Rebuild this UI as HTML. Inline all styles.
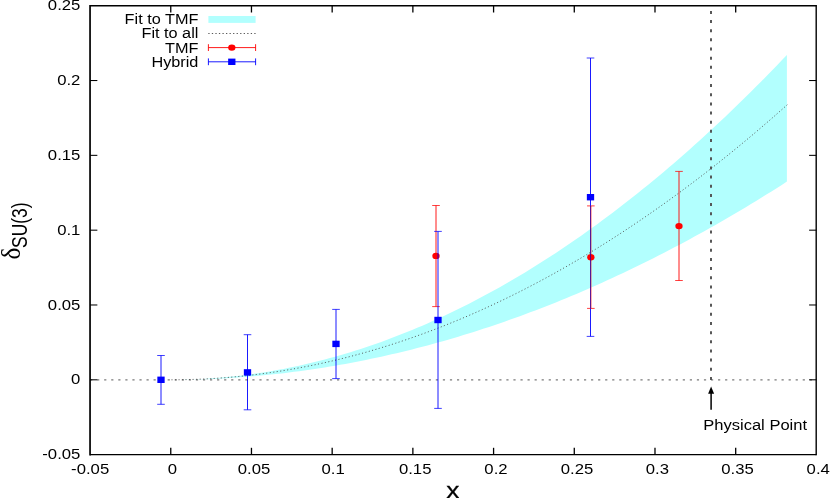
<!DOCTYPE html>
<html><head><meta charset="utf-8"><title>plot</title>
<style>
html,body{margin:0;padding:0;background:#fff;}
svg{display:block;}
text{font-family:"Liberation Sans",sans-serif;fill:#000;}
</style></head><body>
<svg width="830" height="498" viewBox="0 0 830 498">
<rect width="830" height="498" fill="#fff"/>
<path d="M170.76,379.80 L175.89,379.78 L181.02,379.71 L186.16,379.60 L191.29,379.44 L196.43,379.24 L201.56,378.99 L206.70,378.69 L211.83,378.36 L216.97,377.97 L222.10,377.54 L227.24,377.07 L232.37,376.55 L237.50,375.99 L242.64,375.38 L247.77,374.72 L252.91,374.02 L258.04,373.28 L263.18,372.49 L268.31,371.66 L273.45,370.78 L278.58,369.85 L283.72,368.88 L288.85,367.87 L293.98,366.81 L299.12,365.70 L304.25,364.55 L309.39,363.35 L314.52,362.11 L319.66,360.83 L324.79,359.50 L329.93,358.12 L335.06,356.70 L340.20,355.23 L345.33,353.72 L350.46,352.16 L355.60,350.56 L360.73,348.91 L365.87,347.22 L371.00,345.49 L376.14,343.70 L381.27,341.88 L386.41,340.00 L391.54,338.09 L396.68,336.12 L401.81,334.11 L406.94,332.06 L412.08,329.96 L417.21,327.82 L422.35,325.63 L427.48,323.40 L432.62,321.12 L437.75,318.80 L442.89,316.43 L448.02,314.01 L453.16,311.55 L458.29,309.05 L463.42,306.50 L468.56,303.91 L473.69,301.27 L478.83,298.58 L483.96,295.85 L489.10,293.08 L494.23,290.26 L499.37,287.39 L504.50,284.48 L509.64,281.53 L514.77,278.53 L519.90,275.48 L525.04,272.39 L530.17,269.25 L535.31,266.07 L540.44,262.85 L545.58,259.57 L550.71,256.26 L555.85,252.90 L560.98,249.49 L566.11,246.04 L571.25,242.54 L576.38,239.00 L581.52,235.41 L586.65,231.78 L591.79,228.10 L596.92,224.38 L602.06,220.61 L607.19,216.80 L612.33,212.94 L617.46,209.04 L622.59,205.09 L627.73,201.10 L632.86,197.06 L638.00,192.98 L643.13,188.85 L648.27,184.67 L653.40,180.45 L658.54,176.19 L663.67,171.88 L668.81,167.53 L673.94,163.13 L679.07,158.68 L684.21,154.19 L689.34,149.66 L694.48,145.08 L699.61,140.45 L704.75,135.78 L709.88,131.07 L715.02,126.31 L720.15,121.50 L725.29,116.65 L730.42,111.76 L735.55,106.82 L740.69,101.83 L745.82,96.80 L750.96,91.72 L756.09,86.60 L761.23,81.44 L766.36,76.22 L771.50,70.97 L776.63,65.67 L781.77,60.32 L786.90,54.93 L786.90,181.61 L781.77,184.90 L776.63,188.16 L771.50,191.39 L766.36,194.60 L761.23,197.78 L756.09,200.93 L750.96,204.05 L745.82,207.15 L740.69,210.22 L735.55,213.26 L730.42,216.28 L725.29,219.26 L720.15,222.22 L715.02,225.15 L709.88,228.06 L704.75,230.93 L699.61,233.78 L694.48,236.60 L689.34,239.40 L684.21,242.17 L679.07,244.90 L673.94,247.62 L668.81,250.30 L663.67,252.96 L658.54,255.58 L653.40,258.19 L648.27,260.76 L643.13,263.31 L638.00,265.82 L632.86,268.32 L627.73,270.78 L622.59,273.22 L617.46,275.62 L612.33,278.01 L607.19,280.36 L602.06,282.68 L596.92,284.98 L591.79,287.25 L586.65,289.50 L581.52,291.71 L576.38,293.90 L571.25,296.06 L566.11,298.20 L560.98,300.30 L555.85,302.38 L550.71,304.43 L545.58,306.45 L540.44,308.45 L535.31,310.42 L530.17,312.36 L525.04,314.27 L519.90,316.16 L514.77,318.02 L509.64,319.85 L504.50,321.65 L499.37,323.42 L494.23,325.17 L489.10,326.89 L483.96,328.59 L478.83,330.25 L473.69,331.89 L468.56,333.50 L463.42,335.08 L458.29,336.64 L453.16,338.17 L448.02,339.67 L442.89,341.14 L437.75,342.58 L432.62,344.00 L427.48,345.39 L422.35,346.75 L417.21,348.09 L412.08,349.40 L406.94,350.68 L401.81,351.93 L396.68,353.15 L391.54,354.35 L386.41,355.52 L381.27,356.66 L376.14,357.78 L371.00,358.87 L365.87,359.93 L360.73,360.96 L355.60,361.96 L350.46,362.94 L345.33,363.89 L340.20,364.81 L335.06,365.71 L329.93,366.57 L324.79,367.41 L319.66,368.22 L314.52,369.01 L309.39,369.77 L304.25,370.50 L299.12,371.20 L293.98,371.87 L288.85,372.52 L283.72,373.14 L278.58,373.73 L273.45,374.29 L268.31,374.83 L263.18,375.34 L258.04,375.82 L252.91,376.28 L247.77,376.70 L242.64,377.10 L237.50,377.47 L232.37,377.82 L227.24,378.13 L222.10,378.42 L216.97,378.69 L211.83,378.92 L206.70,379.13 L201.56,379.30 L196.43,379.46 L191.29,379.58 L186.16,379.68 L181.02,379.74 L175.89,379.79 L170.76,379.80Z" fill="#b2fffe" stroke="none"/>
<line x1="90.05" y1="379.8" x2="816.4" y2="379.8" stroke="#7a7a7a" stroke-width="1.2" stroke-dasharray="2.2 4.856"/>
<line x1="711" y1="379.90000000000003" x2="711" y2="5.7" stroke="#505050" stroke-width="1.9" stroke-dasharray="3 6.15"/>
<path d="M786.49,105.44 L787.31,104.71 M784.02,107.63 L784.85,106.90 M781.56,109.82 L782.38,109.09 M779.09,111.99 L779.92,111.27 M776.63,114.16 L777.46,113.43 M774.32,116.18 L775.15,115.46 M771.85,118.33 L772.68,117.61 M769.39,120.47 L770.22,119.75 M766.92,122.60 L767.75,121.88 M764.46,124.73 L765.29,124.01 M761.99,126.84 L762.83,126.12 M759.53,128.95 L760.36,128.23 M757.06,131.04 L757.90,130.33 M754.44,133.26 L755.28,132.55 M751.98,135.34 L752.82,134.63 M749.51,137.41 L750.35,136.70 M747.04,139.47 L747.89,138.76 M744.58,141.52 L745.43,140.82 M741.96,143.69 L742.81,142.99 M739.49,145.72 L740.34,145.02 M737.03,147.75 L737.88,147.05 M734.41,149.89 L735.26,149.19 M731.94,151.90 L732.80,151.20 M729.33,154.02 L730.18,153.33 M726.86,156.01 L727.72,155.32 M724.24,158.11 L725.10,157.42 M721.77,160.08 L722.63,159.40 M719.16,162.17 L720.02,161.48 M716.54,164.24 L717.40,163.56 M714.07,166.18 L714.94,165.50 M711.45,168.24 L712.32,167.56 M708.83,170.28 L709.70,169.61 M706.21,172.32 L707.08,171.64 M703.59,174.34 L704.46,173.67 M701.13,176.24 L702.00,175.57 M698.51,178.25 L699.38,177.58 M695.89,180.24 L696.76,179.58 M693.27,182.23 L694.15,181.56 M690.65,184.20 L691.53,183.54 M688.03,186.17 L688.91,185.51 M685.26,188.24 L686.14,187.58 M682.64,190.19 L683.52,189.53 M680.02,192.12 L680.90,191.47 M677.40,194.05 L678.29,193.40 M674.78,195.96 L675.67,195.31 M672.01,197.98 L672.90,197.33 M669.39,199.88 L670.28,199.23 M666.77,201.76 L667.66,201.12 M663.99,203.75 L664.89,203.11 M661.37,205.61 L662.27,204.97 M658.60,207.58 L659.50,206.94 M655.98,209.42 L656.88,208.79 M653.21,211.36 L654.11,210.73 M650.43,213.29 L651.34,212.67 M647.82,215.11 L648.72,214.48 M645.04,217.02 L645.95,216.39 M642.27,218.91 L643.18,218.29 M639.65,220.70 L640.56,220.08 M636.88,222.57 L637.79,221.96 M634.10,224.44 L635.01,223.83 M631.33,226.29 L632.24,225.68 M628.55,228.14 L629.47,227.53 M625.78,229.97 L626.70,229.36 M623.01,231.79 L623.93,231.19 M620.23,233.60 L621.16,233.00 M617.46,235.40 L618.38,234.80 M614.69,237.19 L615.61,236.59 M611.76,239.06 L612.69,238.47 M608.99,240.82 L609.91,240.24 M606.21,242.58 L607.14,241.99 M603.29,244.42 L604.22,243.83 M600.51,246.15 L601.45,245.57 M597.74,247.87 L598.67,247.29 M594.81,249.67 L595.75,249.09 M592.04,251.37 L592.98,250.79 M589.11,253.15 L590.05,252.58 M586.34,254.82 L587.28,254.25 M583.41,256.57 L584.35,256.01 M580.48,258.32 L581.43,257.76 M577.55,260.05 L578.50,259.49 M574.78,261.67 L575.73,261.12 M571.85,263.38 L572.80,262.83 M568.92,265.07 L569.88,264.52 M566.00,266.75 L566.95,266.21 M563.07,268.42 L564.03,267.88 M560.14,270.08 L561.10,269.54 M557.21,271.72 L558.17,271.18 M554.29,273.35 L555.25,272.82 M551.36,274.97 L552.32,274.44 M548.43,276.58 L549.40,276.05 M545.50,278.17 L546.47,277.65 M542.42,279.84 L543.39,279.32 M539.50,281.41 L540.47,280.89 M536.57,282.96 L537.54,282.45 M533.49,284.59 L534.46,284.07 M530.56,286.12 L531.53,285.61 M527.48,287.71 L528.45,287.21 M524.55,289.22 L525.53,288.72 M521.47,290.79 L522.45,290.29 M518.54,292.27 L519.52,291.78 M515.46,293.82 L516.44,293.32 M512.38,295.35 L513.36,294.86 M509.45,296.79 L510.44,296.30 M506.37,298.29 L507.36,297.81 M503.29,299.78 L504.28,299.30 M500.20,301.26 L501.20,300.78 M497.12,302.72 L498.12,302.25 M494.04,304.17 L495.04,303.70 M490.96,305.60 L491.96,305.14 M487.88,307.02 L488.88,306.56 M484.80,308.43 L485.80,307.98 M481.72,309.83 L482.72,309.37 M478.48,311.27 L479.48,310.83 M475.40,312.64 L476.40,312.20 M472.32,313.99 L473.32,313.55 M469.23,315.33 L470.24,314.89 M466.00,316.72 L467.01,316.29 M462.92,318.03 L463.93,317.60 M459.68,319.39 L460.70,318.97 M456.60,320.67 L457.62,320.25 M453.36,322.00 L454.38,321.59 M450.28,323.26 L451.30,322.84 M447.05,324.56 L448.07,324.15 M443.81,325.84 L444.84,325.44 M440.73,327.06 L441.76,326.65 M437.50,328.31 L438.52,327.92 M434.26,329.55 L435.29,329.16 M431.02,330.78 L432.05,330.39 M427.79,331.99 L428.82,331.61 M424.55,333.19 L425.59,332.81 M421.32,334.37 L422.35,333.99 M418.08,335.53 L419.12,335.16 M414.85,336.68 L415.88,336.32 M411.61,337.82 L412.65,337.46 M408.38,338.94 L409.42,338.58 M405.14,340.05 L406.18,339.69 M401.75,341.19 L402.79,340.84 M398.51,342.26 L399.56,341.92 M395.28,343.32 L396.33,342.98 M391.89,344.41 L392.94,344.08 M388.65,345.44 L389.70,345.11 M385.26,346.50 L386.32,346.17 M382.03,347.50 L383.08,347.18 M378.64,348.53 L379.69,348.21 M375.40,349.49 L376.46,349.18 M372.01,350.49 L373.07,350.18 M368.78,351.42 L369.84,351.12 M365.39,352.39 L366.45,352.09 M362.00,353.33 L363.06,353.04 M358.61,354.26 L359.67,353.97 M355.38,355.13 L356.44,354.85 M351.99,356.03 L353.05,355.75 M348.60,356.91 L349.66,356.64 M345.21,357.78 L346.27,357.51 M341.82,358.62 L342.89,358.36 M338.43,359.46 L339.50,359.19 M335.04,360.27 L336.11,360.01 M331.65,361.07 L332.72,360.82 M328.26,361.85 L329.33,361.60 M324.87,362.61 L325.94,362.37 M321.48,363.36 L322.56,363.12 M317.94,364.12 L319.01,363.89 M314.55,364.84 L315.63,364.61 M311.16,365.53 L312.24,365.31 M307.77,366.21 L308.85,366.00 M304.23,366.91 L305.31,366.70 M300.84,367.55 L301.92,367.35 M297.45,368.18 L298.53,367.99 M293.91,368.83 L294.99,368.63 M290.52,369.42 L291.60,369.23 M287.13,370.00 L288.21,369.82 M283.58,370.59 L284.67,370.41 M280.19,371.13 L281.28,370.96 M276.65,371.69 L277.74,371.52 M273.26,372.20 L274.35,372.03 M269.72,372.71 L270.81,372.56 M266.18,373.21 L267.26,373.06 M262.79,373.67 L263.88,373.53 M259.24,374.13 L260.33,373.99 M255.70,374.58 L256.79,374.44 M252.31,374.99 L253.40,374.86 M248.77,375.40 L249.86,375.27 M245.22,375.79 L246.32,375.67 M241.84,376.14 L242.93,376.03 M238.29,376.50 L239.39,376.39 M234.75,376.84 L235.84,376.73 M231.21,377.16 L232.30,377.06 M227.82,377.44 L228.91,377.35 M224.27,377.73 L225.37,377.64 M220.73,377.99 L221.83,377.91 M217.19,378.24 L218.29,378.17 M213.64,378.47 L214.74,378.40 M210.26,378.67 L211.35,378.61 M206.71,378.86 L207.81,378.81 M203.17,379.04 L204.27,378.99 M199.63,379.20 L200.73,379.15 M196.08,379.34 L197.18,379.29 M192.54,379.46 L193.64,379.42 M189.00,379.56 L190.10,379.53 M185.46,379.64 L186.55,379.62 M182.07,379.71 L183.17,379.69 M178.52,379.76 L179.62,379.74 M174.98,379.79 L176.08,379.78 M171.44,379.80 L172.54,379.80" fill="none" stroke="#505050" stroke-width="0.88"/>
<g stroke="#ff0000" stroke-width="0.9" fill="none" style="mix-blend-mode:normal"><line x1="436.0" y1="205.5" x2="436.0" y2="306.6"/><line x1="432.2" y1="205.5" x2="439.8" y2="205.5" stroke-width="0.75"/><line x1="432.2" y1="306.6" x2="439.8" y2="306.6" stroke-width="0.75"/></g><ellipse cx="436.0" cy="255.9" rx="3.65" ry="3.2" fill="#ff0000"/>
<g stroke="#ff0000" stroke-width="0.9" fill="none" style="mix-blend-mode:normal"><line x1="590.85" y1="205.9" x2="590.85" y2="308.4"/><line x1="587.0500000000001" y1="205.9" x2="594.65" y2="205.9" stroke-width="0.75"/><line x1="587.0500000000001" y1="308.4" x2="594.65" y2="308.4" stroke-width="0.75"/></g><ellipse cx="590.85" cy="257.3" rx="3.65" ry="3.2" fill="#ff0000"/>
<g stroke="#ff0000" stroke-width="0.9" fill="none" style="mix-blend-mode:normal"><line x1="679.0" y1="171.4" x2="679.0" y2="280.5"/><line x1="675.2" y1="171.4" x2="682.8" y2="171.4" stroke-width="0.75"/><line x1="675.2" y1="280.5" x2="682.8" y2="280.5" stroke-width="0.75"/></g><ellipse cx="679.0" cy="226.1" rx="3.65" ry="3.2" fill="#ff0000"/>
<g stroke="#0000ff" stroke-width="0.9" fill="none" style="mix-blend-mode:multiply"><line x1="161.0" y1="355.5" x2="161.0" y2="404.3"/><line x1="157.2" y1="355.5" x2="164.8" y2="355.5" stroke-width="0.75"/><line x1="157.2" y1="404.3" x2="164.8" y2="404.3" stroke-width="0.75"/></g><rect x="157.35" y="376.6" width="7.3" height="6.4" fill="#0000ff"/>
<g stroke="#0000ff" stroke-width="0.9" fill="none" style="mix-blend-mode:multiply"><line x1="247.5" y1="334.7" x2="247.5" y2="409.8"/><line x1="243.7" y1="334.7" x2="251.3" y2="334.7" stroke-width="0.75"/><line x1="243.7" y1="409.8" x2="251.3" y2="409.8" stroke-width="0.75"/></g><rect x="243.85" y="369.2" width="7.3" height="6.4" fill="#0000ff"/>
<g stroke="#0000ff" stroke-width="0.9" fill="none" style="mix-blend-mode:multiply"><line x1="336.0" y1="309.4" x2="336.0" y2="378.6"/><line x1="332.2" y1="309.4" x2="339.8" y2="309.4" stroke-width="0.75"/><line x1="332.2" y1="378.6" x2="339.8" y2="378.6" stroke-width="0.75"/></g><rect x="332.35" y="340.7" width="7.3" height="6.4" fill="#0000ff"/>
<g stroke="#0000ff" stroke-width="0.9" fill="none" style="mix-blend-mode:normal"><line x1="438.0" y1="231.4" x2="438.0" y2="408.4"/><line x1="434.2" y1="231.4" x2="441.8" y2="231.4" stroke-width="0.75"/><line x1="434.2" y1="408.4" x2="441.8" y2="408.4" stroke-width="0.75"/></g><rect x="434.35" y="316.8" width="7.3" height="6.4" fill="#0000ff"/>
<g stroke="#0000ff" stroke-width="0.9" fill="none"><line x1="590.5" y1="58.0" x2="590.5" y2="205.9"/><line x1="590.5" y1="205.9" x2="590.5" y2="308.4" stroke="#3000a0" stroke-opacity="0.88"/><line x1="590.5" y1="308.4" x2="590.5" y2="336.4"/><line x1="586.7" y1="58.0" x2="594.3" y2="58.0" stroke-width="0.75"/><line x1="586.7" y1="336.4" x2="594.3" y2="336.4" stroke-width="0.75"/></g><rect x="586.85" y="194.0" width="7.3" height="6.4" fill="#0000ff"/>
<g stroke="#000" fill="none"><line x1="90.05" y1="4.9" x2="90.05" y2="455.40000000000003" stroke-width="1.7"/><line x1="816.1999999999999" y1="5.0" x2="816.1999999999999" y2="455.3" stroke-width="1.4"/><line x1="90.05" y1="5.7" x2="816.4" y2="5.7" stroke-width="1.45"/><line x1="90.05" y1="454.6" x2="816.4" y2="454.6" stroke-width="1.45"/><line x1="170.76" y1="454.6" x2="170.76" y2="447.8" stroke-width="1.3"/><line x1="170.76" y1="5.7" x2="170.76" y2="12.5" stroke-width="1.3"/><line x1="251.46" y1="454.6" x2="251.46" y2="447.8" stroke-width="1.3"/><line x1="251.46" y1="5.7" x2="251.46" y2="12.5" stroke-width="1.3"/><line x1="332.17" y1="454.6" x2="332.17" y2="447.8" stroke-width="1.3"/><line x1="332.17" y1="5.7" x2="332.17" y2="12.5" stroke-width="1.3"/><line x1="412.87" y1="454.6" x2="412.87" y2="447.8" stroke-width="1.3"/><line x1="412.87" y1="5.7" x2="412.87" y2="12.5" stroke-width="1.3"/><line x1="493.58" y1="454.6" x2="493.58" y2="447.8" stroke-width="1.3"/><line x1="493.58" y1="5.7" x2="493.58" y2="12.5" stroke-width="1.3"/><line x1="574.28" y1="454.6" x2="574.28" y2="447.8" stroke-width="1.3"/><line x1="574.28" y1="5.7" x2="574.28" y2="12.5" stroke-width="1.3"/><line x1="654.99" y1="454.6" x2="654.99" y2="447.8" stroke-width="1.3"/><line x1="654.99" y1="5.7" x2="654.99" y2="12.5" stroke-width="1.3"/><line x1="735.69" y1="454.6" x2="735.69" y2="447.8" stroke-width="1.3"/><line x1="735.69" y1="5.7" x2="735.69" y2="12.5" stroke-width="1.3"/><line x1="90.05" y1="379.80" x2="97.35" y2="379.80" stroke-width="1.05"/><line x1="816.4" y1="379.80" x2="809.1" y2="379.80" stroke-width="1.05"/><line x1="90.05" y1="304.98" x2="97.35" y2="304.98" stroke-width="1.05"/><line x1="816.4" y1="304.98" x2="809.1" y2="304.98" stroke-width="1.05"/><line x1="90.05" y1="230.17" x2="97.35" y2="230.17" stroke-width="1.05"/><line x1="816.4" y1="230.17" x2="809.1" y2="230.17" stroke-width="1.05"/><line x1="90.05" y1="155.35" x2="97.35" y2="155.35" stroke-width="1.05"/><line x1="816.4" y1="155.35" x2="809.1" y2="155.35" stroke-width="1.05"/><line x1="90.05" y1="80.53" x2="97.35" y2="80.53" stroke-width="1.05"/><line x1="816.4" y1="80.53" x2="809.1" y2="80.53" stroke-width="1.05"/></g>
<text transform="translate(90.15,473.50) scale(1.115,1)" font-size="15.0" text-anchor="middle">-0.05</text>
<text transform="translate(172.51,473.50) scale(1.115,1)" font-size="15.0" text-anchor="middle">0</text>
<text transform="translate(254.06,473.50) scale(1.115,1)" font-size="15.0" text-anchor="middle">0.05</text>
<text transform="translate(333.07,473.50) scale(1.115,1)" font-size="15.0" text-anchor="middle">0.1</text>
<text transform="translate(415.17,473.50) scale(1.115,1)" font-size="15.0" text-anchor="middle">0.15</text>
<text transform="translate(495.98,473.50) scale(1.115,1)" font-size="15.0" text-anchor="middle">0.2</text>
<text transform="translate(576.98,473.50) scale(1.115,1)" font-size="15.0" text-anchor="middle">0.25</text>
<text transform="translate(657.39,473.50) scale(1.115,1)" font-size="15.0" text-anchor="middle">0.3</text>
<text transform="translate(737.59,473.50) scale(1.115,1)" font-size="15.0" text-anchor="middle">0.35</text>
<text transform="translate(818.20,473.50) scale(1.115,1)" font-size="15.0" text-anchor="middle">0.4</text>
<text transform="translate(80.40,459.47) scale(1.115,1)" font-size="15.0" text-anchor="end">-0.05</text>
<text transform="translate(80.40,384.20) scale(1.115,1)" font-size="15.0" text-anchor="end">0</text>
<text transform="translate(80.40,309.83) scale(1.115,1)" font-size="15.0" text-anchor="end">0.05</text>
<text transform="translate(80.40,235.02) scale(1.115,1)" font-size="15.0" text-anchor="end">0.1</text>
<text transform="translate(80.40,160.20) scale(1.115,1)" font-size="15.0" text-anchor="end">0.15</text>
<text transform="translate(80.40,85.38) scale(1.115,1)" font-size="15.0" text-anchor="end">0.2</text>
<text transform="translate(80.40,10.17) scale(1.115,1)" font-size="15.0" text-anchor="end">0.25</text>
<text transform="translate(198.40,24.00) scale(1.085,1)" font-size="15.0" text-anchor="end">Fit to TMF</text>
<text transform="translate(198.40,38.20) scale(1.085,1)" font-size="15.0" text-anchor="end">Fit to all</text>
<text transform="translate(198.40,52.75) scale(1.085,1)" font-size="15.0" text-anchor="end">TMF</text>
<text transform="translate(198.40,67.30) scale(1.085,1)" font-size="15.0" text-anchor="end">Hybrid</text>
<rect x="208.4" y="16" width="47.19999999999999" height="6.9" fill="#b2fffe"/>
<line x1="208.3" y1="33.5" x2="255.6" y2="33.5" stroke="#505050" stroke-width="0.95" stroke-dasharray="1.3 2.238"/>
<g stroke="#ff0000" stroke-width="0.9" fill="none"><line x1="208.4" y1="47.6" x2="255.6" y2="47.6"/><line x1="208.4" y1="44.2" x2="208.4" y2="51.0"/><line x1="255.6" y1="44.2" x2="255.6" y2="51.0"/></g><ellipse cx="231.8" cy="47.6" rx="3.65" ry="3.2" fill="#ff0000"/>
<g stroke="#0000ff" stroke-width="0.9" fill="none"><line x1="208.4" y1="61.8" x2="255.6" y2="61.8"/><line x1="208.4" y1="58.4" x2="208.4" y2="65.2"/><line x1="255.6" y1="58.4" x2="255.6" y2="65.2"/></g><rect x="228.15" y="58.599999999999994" width="7.3" height="6.4" fill="#0000ff"/>
<text transform="translate(703.20,429.70) scale(1.104,1)" font-size="15.0" text-anchor="start">Physical Point</text>
<line x1="711.1" y1="409.8" x2="711.1" y2="392" stroke="#000" stroke-width="1.5"/><path d="M711.1,386.6 L714.1,393.8 L708.1,393.8 Z" fill="#000"/>
<text transform="translate(452.9,497.9) scale(1.23,1)" font-size="21.4" text-anchor="middle" stroke="#000" stroke-width="0.25">x</text>
<text transform="translate(19.55,259.4) scale(1.05,1) rotate(-90)" font-size="25.3" style="font-family:'Liberation Serif',serif">δ</text>
<text transform="translate(26.9,247.9) scale(1.25,1) rotate(-90)" font-size="17.4">SU(3)</text>
</svg></body></html>
